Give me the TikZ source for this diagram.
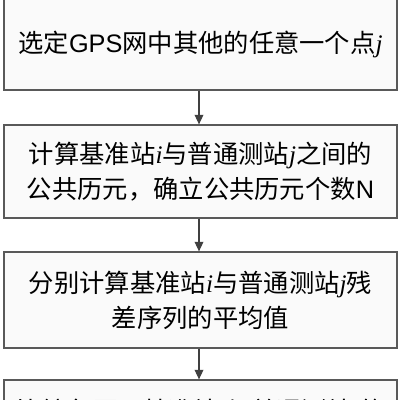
\documentclass[tikz,border=0pt]{standalone}
\usepackage{fontspec}
\setmainfont{Noto Sans CJK SC}
\newfontfamily\latinsans{Liberation Sans}
\newfontfamily\latinserif{Liberation Serif}
\usetikzlibrary{arrows.meta}
\newcommand{\stn}[1]{{\latinserif\itshape #1}}
\newcommand{\lat}[1]{{\latinsans #1}}

\begin{document}
\begin{tikzpicture}[font=\fontsize{18}{25}\selectfont,
    >={Triangle[length=2.4mm, width=2.2mm]},
    procbox/.style={draw=black!65, line width=0.9pt, fill=gray!4,
                    minimum width=9.825cm, text width=9.6cm,
                    align=center, inner sep=0pt},
    flow/.style={->, draw=black!75, line width=0.8pt}]
  \useasboundingbox (0,0) rectangle (10,-10);
  \coordinate (prev) at (4.975, 0.8);
  \node[procbox, minimum height=2.275cm] (pick) at (5.0125, -1.1125)
        {选定\lat{GPS}网中其他的任意一个点\stn{j}};
  \node[procbox, minimum height=2.325cm] (epoch) at (5.0125, -4.2875)
        {计算基准站\stn{i}与普通测站\stn{j}之间的\\公共历元，确立公共历元个数\lat{N}};
  \node[procbox, minimum height=2.4cm] (mean) at (5.0125, -7.5)
        {分别计算基准站\stn{i}与普通测站\stn{j}残\\差序列的平均值};
  \node[procbox, minimum height=2.4cm] (next) at (5.0125, -10.7)
        {比较各历元基准站\stn{i}与普通测站\stn{j}的\\残差序列};
  \draw[flow] (prev) -- (pick.north -| prev);
  \draw[flow] (pick.south -| prev) -- (epoch.north -| prev);
  \draw[flow] (epoch.south -| prev) -- (mean.north -| prev);
  \draw[flow] (mean.south -| prev) -- (next.north -| prev);
\end{tikzpicture}
\end{document}
